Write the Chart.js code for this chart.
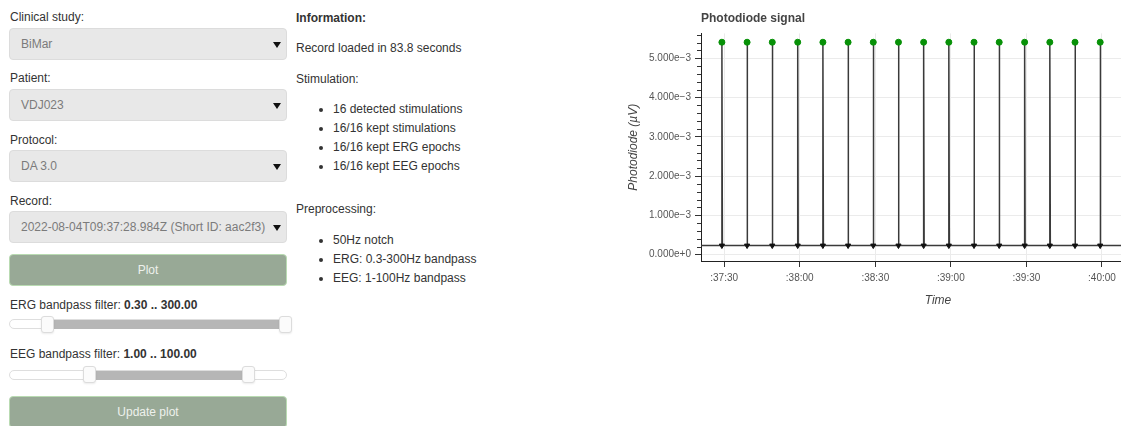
<!DOCTYPE html>
<html>
<head>
<meta charset="utf-8">
<title>Photodiode signal</title>
<script src="https://cdn.jsdelivr.net/npm/chart.js@4.4.0/dist/chart.umd.min.js"></script>
<style>
  html, body { margin: 0; padding: 0; width: 1121px; height: 426px; overflow: hidden; background: #fff;
    font-family: "Liberation Sans", Arial, sans-serif; font-size: 12px; color: #333; }
  .txt { position: absolute; line-height: 14px; white-space: nowrap; }
  .select { position: absolute; left: 9px; width: 278px; height: 32px; box-sizing: border-box;
    background: #e8e8e8; border: 1px solid #dcdcdc; border-radius: 4px; }
  .select span { position: absolute; left: 11px; top: 8px; line-height: 14px; color: #7b7b7b; white-space: nowrap; }
  .select i { position: absolute; left: 263px; top: 13px; width: 0; height: 0;
    border-left: 4px solid transparent; border-right: 4px solid transparent; border-top: 6px solid #111; }
  .btn { position: absolute; left: 9px; width: 278px; height: 32px; box-sizing: border-box;
    background: #98a996; border: 1px solid #b9dbb2; border-radius: 4px; color: #eef1ec;
    text-align: center; line-height: 30px; }
  .track { position: absolute; left: 9px; width: 278px; height: 10px; box-sizing: border-box;
    background: #fff; border: 1px solid #dedede; border-radius: 5px; }
  .range { position: absolute; height: 9px; background: #b6b6b6; }
  .handle { position: absolute; width: 13px; height: 17px; box-sizing: border-box; background: #fbfbfb;
    border: 1px solid #dcdcdc; border-radius: 3px; box-shadow: 0 1px 2px rgba(0,0,0,0.08); }
  ul { position: absolute; left: 296px; margin: 0; padding-left: 37px; list-style: disc; }
  li { line-height: 19px; white-space: nowrap; }
  #chartWrap { position: absolute; left: 620px; top: 0; }
</style>
</head>
<body>

<!-- left column: selection form -->
<div class="txt" style="left:10px; top:10px;">Clinical study:</div>
<div class="select" style="top:28px;"><span>BiMar</span><i></i></div>
<div class="txt" style="left:10px; top:71px;">Patient:</div>
<div class="select" style="top:89px;"><span>VDJ023</span><i></i></div>
<div class="txt" style="left:10px; top:133px;">Protocol:</div>
<div class="select" style="top:150px;"><span>DA 3.0</span><i></i></div>
<div class="txt" style="left:10px; top:194px;">Record:</div>
<div class="select" style="top:211px;"><span>2022-08-04T09:37:28.984Z (Short ID: aac2f3)</span><i></i></div>
<div class="btn" style="top:254px;">Plot</div>

<div class="txt" style="left:10px; top:298px;">ERG bandpass filter: <b>0.30 .. 300.00</b></div>
<div class="track" style="top:319px;"></div>
<div class="range" style="left:47px; width:238px; top:320px;"></div>
<div class="handle" style="left:41px; top:316px;"></div>
<div class="handle" style="left:279px; top:316px;"></div>

<div class="txt" style="left:10px; top:347px;">EEG bandpass filter: <b>1.00 .. 100.00</b></div>
<div class="track" style="top:370px;"></div>
<div class="range" style="left:89px; width:159px; top:371px;"></div>
<div class="handle" style="left:83px; top:366px;"></div>
<div class="handle" style="left:242px; top:366px;"></div>
<div class="btn" style="top:396px;">Update plot</div>

<!-- middle column: information -->
<div class="txt" style="left:296px; top:11px;"><b>Information:</b></div>
<div class="txt" style="left:296px; top:41px;">Record loaded in 83.8 seconds</div>
<div class="txt" style="left:296px; top:72px;">Stimulation:</div>
<ul style="top:100px;">
  <li>16 detected stimulations</li>
  <li>16/16 kept stimulations</li>
  <li>16/16 kept ERG epochs</li>
  <li>16/16 kept EEG epochs</li>
</ul>
<div class="txt" style="left:296px; top:202px;">Preprocessing:</div>
<ul style="top:231px;">
  <li>50Hz notch</li>
  <li>ERG: 0.3-300Hz bandpass</li>
  <li>EEG: 1-100Hz bandpass</li>
</ul>

<div id="chartWrap"><canvas id="photodiodeChart" width="560" height="310"></canvas></div>

<script>
// seconds after 09:37:00
const stimTimes = [29.1, 39.1, 49.1, 59.2, 69.2, 79.2, 89.2, 99.2, 109.2, 119.2, 129.2, 139.2, 149.3, 159.3, 169.3, 179.3];
const peakValues = [5.41e-3, 5.41e-3, 5.41e-3, 5.41e-3, 5.41e-3, 5.41e-3, 5.41e-3, 5.41e-3,
                    5.41e-3, 5.41e-3, 5.41e-3, 5.41e-3, 5.41e-3, 5.41e-3, 5.41e-3, 5.41e-3];
const baseValues = [0.23e-3, 0.23e-3, 0.23e-3, 0.23e-3, 0.23e-3, 0.23e-3, 0.23e-3, 0.23e-3,
                    0.23e-3, 0.23e-3, 0.23e-3, 0.23e-3, 0.23e-3, 0.23e-3, 0.23e-3, 0.23e-3];
const recordSpan = [20, 215];

const xTickValues = [30, 60, 90, 120, 150, 180];
const xTickLabels = [':37:30', ':38:00', ':38:30', ':39:00', ':39:30', ':40:00'];
const yTickValues = [0, 1e-3, 2e-3, 3e-3, 4e-3, 5e-3];
const yTickLabels = ['0.000e+0', '1.000e\u22123', '2.000e\u22123', '3.000e\u22123', '4.000e\u22123', '5.000e\u22123'];
const xRange = [20.8, 209];
const yRange = [-0.163e-3, 5.635e-3];

Chart.defaults.font.family = '"Liberation Sans", Arial, sans-serif';

// photodiode trace: flat baseline with a short spike at every stimulation
const signalPoints = [{ x: recordSpan[0], y: baseValues[0] }];
stimTimes.forEach((t, i) => {
  signalPoints.push({ x: t, y: baseValues[i] });
  signalPoints.push({ x: t, y: peakValues[i] });
  signalPoints.push({ x: t + 0.2, y: baseValues[i] });
});
signalPoints.push({ x: recordSpan[1], y: baseValues[baseValues.length - 1] });

const peakPoints = stimTimes.map((t, i) => ({ x: t, y: peakValues[i] }));
const basePoints = stimTimes.map((t, i) => ({ x: t, y: baseValues[i] }));

// small minor ticks on the y axis (bokeh style)
const minorTicks = {
  id: 'minorTicks',
  afterDraw(chart) {
    const y = chart.scales.y;
    const ctx = chart.ctx;
    ctx.save();
    ctx.strokeStyle = '#333';
    ctx.lineWidth = 1;
    for (let k = 1; k * 0.2e-3 < yRange[1]; k++) {
      if (k % 5 === 0) continue;
      const py = Math.round(y.getPixelForValue(k * 0.2e-3)) + 0.5;
      ctx.beginPath();
      ctx.moveTo(y.right - 4, py);
      ctx.lineTo(y.right, py);
      ctx.stroke();
    }
    ctx.restore();
  }
};

new Chart(document.querySelector('#photodiodeChart'), {
  type: 'line',
  data: {
    datasets: [{
      label: 'Peaks',
      type: 'scatter',
      data: peakPoints,
      pointRadius: 3,
      pointBackgroundColor: '#079107',
      pointBorderColor: '#079107',
      order: 1
    }, {
      label: 'Onsets',
      type: 'scatter',
      data: basePoints,
      pointStyle: 'triangle',
      rotation: 180,
      pointRadius: 3,
      pointBackgroundColor: '#111',
      pointBorderColor: '#111',
      order: 2
    }, {
      label: 'Photodiode',
      data: signalPoints,
      borderColor: '#3a3a3a',
      borderWidth: 1.5,
      pointRadius: 0,
      tension: 0,
      order: 3
    }]
  },
  options: {
    responsive: false,
    animation: false,
    layout: { padding: 0 },
    plugins: {
      legend: { display: false },
      tooltip: { enabled: false },
      title: {
        display: true,
        text: 'Photodiode signal',
        align: 'start',
        fullSize: false,
        color: '#444',
        font: { size: 12, weight: 'bold' },
        padding: { top: 11, bottom: 8 }
      }
    },
    scales: {
      x: {
        type: 'linear',
        min: xRange[0],
        max: xRange[1],
        afterBuildTicks: scale => { scale.ticks = xTickValues.map(v => ({ value: v })); },
        afterFit: scale => { scale.height = 49; },
        ticks: {
          color: '#555',
          font: { size: 10 },
          padding: 5,
          maxRotation: 0,
          autoSkip: false,
          callback: v => xTickLabels[xTickValues.indexOf(v)]
        },
        grid: { color: '#ebebeb', tickColor: '#333', tickLength: 6 },
        border: { color: '#222', width: 1 },
        title: {
          display: true,
          text: 'Time',
          color: '#444',
          font: { size: 12, style: 'italic' },
          padding: { top: 4, bottom: 2 }
        }
      },
      y: {
        type: 'linear',
        min: yRange[0],
        max: yRange[1],
        afterBuildTicks: scale => { scale.ticks = yTickValues.map(v => ({ value: v })); },
        afterFit: scale => { scale.width = 81; },
        ticks: {
          color: '#555',
          font: { size: 10 },
          padding: 4,
          callback: v => yTickLabels[yTickValues.indexOf(v)]
        },
        grid: { color: '#ebebeb', tickColor: '#333', tickLength: 6 },
        border: { color: '#222', width: 1 },
        title: {
          display: true,
          text: 'Photodiode (\u00b5V)',
          color: '#444',
          font: { size: 12, style: 'italic' },
          padding: { top: 6, bottom: 0 }
        }
      }
    }
  },
  plugins: [minorTicks]
});
</script>
</body>
</html>
